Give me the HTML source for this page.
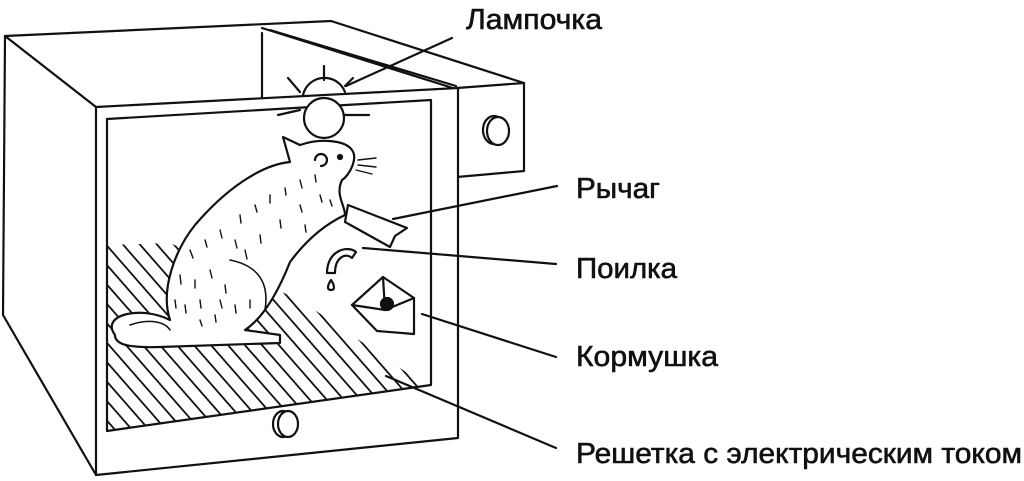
<!DOCTYPE html>
<html><head><meta charset="utf-8"><style>
html,body{margin:0;padding:0;background:#fff;width:1024px;height:481px;overflow:hidden}
svg{display:block;overflow:hidden}
text{font-family:"Liberation Sans",sans-serif;font-size:29px;fill:#111;stroke:#111;stroke-width:0.6}
</style></head><body>
<svg width="1024" height="481" viewBox="0 0 1024 481" fill="none" stroke="#111" stroke-width="2.2" stroke-linejoin="round" stroke-linecap="round">
<polyline points="96,107 5,36 331,21 524,83"/>
<polyline points="5,36 3,315 96,475"/>
<line x1="262" y1="28" x2="456" y2="89"/>
<line x1="262" y1="33" x2="262" y2="100"/>
<line x1="270" y1="30" x2="456" y2="86"/>
<polygon points="457,88 524,83 524,171 457,177"/>
<ellipse cx="494" cy="130" rx="11" ry="14"/>
<ellipse cx="498" cy="131" rx="11" ry="14" fill="#fff"/>
<polygon points="96,107 458,88 458,438 96,475" fill="#fff"/>
<polygon points="107,119 431,100 431,385 107,431"/>
<ellipse cx="283" cy="424" rx="10" ry="13"/>
<ellipse cx="288" cy="424" rx="10" ry="13" fill="#fff"/>
<clipPath id="c"><polygon points="108,245 170,243 300,300 425,385 107,431"/></clipPath>
<g clip-path="url(#c)" stroke-width="1.8">
<g id="g"><line x1="50" y1="200" x2="260" y2="440"/></g>
<use href="#g" x="-255"/><use href="#g" x="-238"/><use href="#g" x="-221"/><use href="#g" x="-204"/><use href="#g" x="-187"/><use href="#g" x="-170"/><use href="#g" x="-153"/><use href="#g" x="-136"/><use href="#g" x="-119"/><use href="#g" x="-102"/><use href="#g" x="-85"/><use href="#g" x="-68"/><use href="#g" x="-51"/><use href="#g" x="-34"/><use href="#g" x="-17"/>
<use href="#g" x="17"/><use href="#g" x="34"/><use href="#g" x="51"/><use href="#g" x="68"/><use href="#g" x="85"/><use href="#g" x="102"/><use href="#g" x="119"/><use href="#g" x="136"/><use href="#g" x="153"/><use href="#g" x="170"/><use href="#g" x="187"/><use href="#g" x="204"/><use href="#g" x="221"/><use href="#g" x="238"/><use href="#g" x="255"/><use href="#g" x="272"/><use href="#g" x="289"/>
</g>
<path d="M303,95 A22,22 0 0 1 345,92"/>
<circle cx="324" cy="118" r="20" fill="#fff"/>
<path d="M300,110 l-22,5 M345,115 l24,0 M300,92 l-12,-14 M324,80 l0,-14 M345,86 l8,-8"/>
<path d="M115,335 C100,315 140,305 170,320 C160,290 175,250 195,225 C225,190 260,165 290,162 L283,137 L300,145 C320,138 345,140 352,150 C358,158 350,175 342,180 C335,195 345,205 345,215 C330,222 310,235 290,262 C275,300 260,320 245,330 L280,335 L280,343 L160,347 C130,348 115,345 115,335 Z" fill="#fff"/>
<path d="M130,325 C150,318 165,322 170,330 M230,260 C255,265 270,280 265,310" stroke-width="1.6"/>
<g stroke-width="1.4">
<path d="M190,250 l3,8 M205,240 l2,7 M220,230 l2,8 M240,215 l1,8 M255,205 l2,7 M270,195 l0,8 M285,188 l1,7 M300,180 l2,8 M315,175 l1,7 M180,275 l1,9 M195,280 l0,8 M210,270 l2,8 M225,285 l1,8 M245,250 l2,9 M260,235 l1,8 M280,220 l1,8 M300,205 l2,7 M320,195 l2,7 M185,305 l1,8 M200,300 l1,8 M215,315 l1,7 M235,305 l1,8 M250,300 l0,8 M305,225 l1,7 M330,200 l2,6 M235,240 l2,8 M175,300 l1,8 M200,320 l2,6 M220,300 l2,8"/>
<path d="M358,160 l18,-2 M358,165 l18,2 M356,170 l16,4"/>
</g>
<circle cx="340" cy="157" r="2" fill="#111"/>
<path d="M315,160 a6,6 0 1 1 6,6"/>
<polygon points="348,205 407,228 395,236 390,247 345,222" fill="#fff"/>
<path d="M327,273 C327,250 348,245 356,252 L352,258 C345,252 335,258 335,273 Z" fill="#fff"/>
<path d="M331,280 c-4,6 -4,10 0,10 c4,0 4,-4 0,-10 z"/>
<polygon points="383,277 414,298 414,334 377,331 352,305" fill="#fff"/>
<polyline points="352,305 385,310 414,298"/>
<line x1="383" y1="277" x2="385" y2="310"/>
<circle cx="387" cy="304" r="6" fill="#111"/>
<line x1="452" y1="38" x2="346" y2="86"/>
<line x1="557" y1="186" x2="393" y2="219"/>
<line x1="556" y1="264" x2="363" y2="248"/>
<line x1="556" y1="357" x2="422" y2="314"/>
<line x1="556" y1="448" x2="386" y2="376"/>
<text x="466" y="29" textLength="136" lengthAdjust="spacingAndGlyphs">Лампочка</text>
<text x="576" y="198" textLength="84" lengthAdjust="spacingAndGlyphs">Рычаг</text>
<text x="576" y="278" textLength="101" lengthAdjust="spacingAndGlyphs">Поилка</text>
<text x="576" y="366" textLength="142" lengthAdjust="spacingAndGlyphs">Кормушка</text>
<text x="576" y="463" textLength="446" lengthAdjust="spacingAndGlyphs">Решетка с электрическим током</text>
</svg>
</body></html>
